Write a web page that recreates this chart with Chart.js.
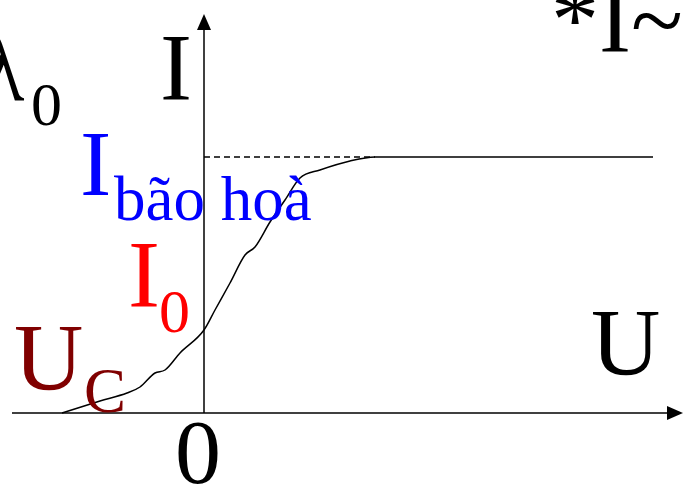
<!DOCTYPE html>
<html>
<head>
<meta charset="utf-8">
<script src="https://cdn.jsdelivr.net/npm/chart.js@4/dist/chart.umd.min.js"></script>
<style>
  html, body { margin: 0; padding: 0; background: #fff; }
  #wrap { width: 691px; height: 490px; }
</style>
</head>
<body>
<div id="wrap"><canvas id="ivChart" width="691" height="490"></canvas></div>
<script>
// đường đặc trưng vôn-ampe của tế bào quang điện
const curveU = [-14.2, -10.4, -7.7, -6.4, -4.9, -3.9, -2.4, 0, 1.1, 2.6, 4.1, 5.1, 6.6, 8.1, 9.6, 11.6, 14.6, 17.1, 44.9];
const curveI = [0, 1.2, 2.0, 2.6, 4.0, 4.3, 6.0, 8.3, 10.3, 13.0, 15.8, 16.6, 19.1, 21.3, 23.5, 24.3, 25.2, 25.6, 25.6];

// dòng quang điện bão hoà (đường đứt nét tới trục I)
const iBaoHoa = 25.6;
const uBaoHoa = 17.1;

// giới hạn hai trục
const uMin = -20.4, uMax = 48.7;
const iMin = -7.7, iMax = 41.3;
const uAxisFrom = -19.2, uAxisTo = 47.9;
const iAxisTo = 39.9;

const serif = '"Liberation Serif", "Times New Roman", serif';

const pts = curveU.map((u, k) => ({ x: u, y: curveI[k] }));

// vẽ trục, mũi tên và các nhãn
const axesPlugin = {
    id: 'axesPlugin',
    afterDraw(chart) {
        const ctx = chart.ctx;
        const sx = chart.scales.x, sy = chart.scales.y;
        const px = v => sx.getPixelForValue(v);
        const py = v => sy.getPixelForValue(v);
        ctx.save();
        ctx.strokeStyle = '#000';
        ctx.fillStyle = '#000';
        ctx.lineWidth = 1.5;

        // trục U
        ctx.beginPath();
        ctx.moveTo(px(uAxisFrom), py(0));
        ctx.lineTo(px(uAxisTo) - 10, py(0));
        ctx.stroke();
        ctx.beginPath();
        ctx.moveTo(px(uAxisTo), py(0));
        ctx.lineTo(px(uAxisTo) - 16, py(0) - 7);
        ctx.lineTo(px(uAxisTo) - 16, py(0) + 7);
        ctx.closePath();
        ctx.fill();

        // trục I
        ctx.beginPath();
        ctx.moveTo(px(0), py(0));
        ctx.lineTo(px(0), py(iAxisTo) + 10);
        ctx.stroke();
        ctx.beginPath();
        ctx.moveTo(px(0), py(iAxisTo));
        ctx.lineTo(px(0) - 7, py(iAxisTo) + 16);
        ctx.lineTo(px(0) + 7, py(iAxisTo) + 16);
        ctx.closePath();
        ctx.fill();

        // đường đứt nét mức bão hoà
        ctx.setLineDash([6, 4]);
        ctx.lineWidth = 1.5;
        ctx.beginPath();
        ctx.moveTo(px(0), py(iBaoHoa));
        ctx.lineTo(px(uBaoHoa), py(iBaoHoa));
        ctx.stroke();
        ctx.setLineDash([]);

        ctx.textBaseline = 'alphabetic';
        ctx.textAlign = 'left';
        const txt = (s, x, y, size, color) => {
            ctx.font = size + 'px ' + serif;
            ctx.fillStyle = color;
            ctx.fillText(s, x, y);
        };

        txt('λ', -22, 100, 96, '#000');
        txt('0', 31, 125, 62, '#000');
        txt('I', 160, 100, 96, '#000');
        txt('*I~', 551, 52, 96, '#000');

        txt('I', 80, 195, 94, '#0000ff');
        txt('bão hoà', 114, 220, 63, '#0000ff');

        txt('I', 128, 307, 96, '#ff0000');
        txt('0', 159, 332, 62, '#ff0000');

        txt('U', 14, 390, 96, '#800000');
        txt('C', 84, 412, 63, '#800000');

        txt('0', 175, 483, 92, '#000');
        txt('U', 591, 375, 96, '#000');
        ctx.restore();
    }
};

new Chart(document.getElementById('ivChart'), {
    type: 'scatter',
    data: {
        datasets: [{
            data: pts,
            showLine: true,
            borderColor: '#000',
            borderWidth: 1.5,
            pointRadius: 0,
            cubicInterpolationMode: 'monotone',
            fill: false
        }]
    },
    options: {
        responsive: false,
        animation: false,
        layout: { padding: 0 },
        plugins: { legend: { display: false }, tooltip: { enabled: false } },
        scales: {
            x: { type: 'linear', display: false, min: uMin, max: uMax },
            y: { type: 'linear', display: false, min: iMin, max: iMax }
        }
    },
    plugins: [axesPlugin]
});
</script>
</body>
</html>
